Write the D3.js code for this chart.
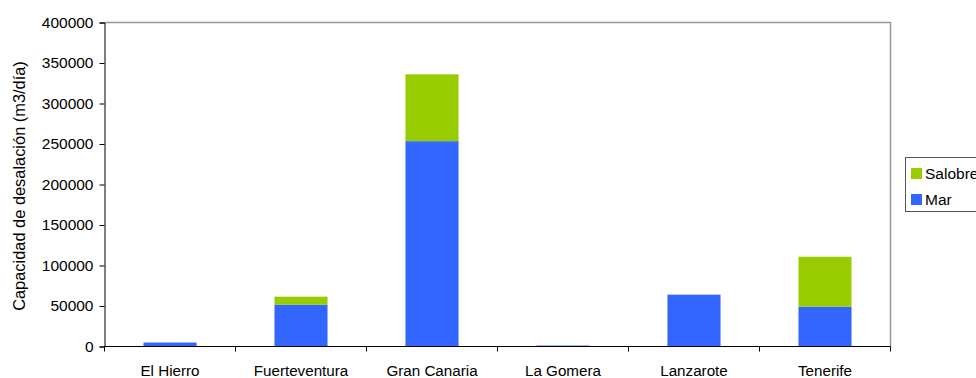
<!DOCTYPE html>
<html>
<head>
<meta charset="utf-8">
<script src="https://cdn.jsdelivr.net/npm/d3@7"></script>
<style>
  html, body { margin: 0; padding: 0; background: #fff; }
  svg { display: block; font-family: "Liberation Sans", Arial, sans-serif; }
</style>
</head>
<body>
<svg id="chart" width="976" height="378"></svg>
<script>
// Desalination capacity by island (m3/day), split by water source
const islands = ["El Hierro", "Fuerteventura", "Gran Canaria", "La Gomera", "Lanzarote", "Tenerife"];
const mar = [4900, 51700, 253500, 1200, 64000, 49200];
const salobre = [0, 9800, 82500, 0, 0, 61600];
const yTicks = [0, 50000, 100000, 150000, 200000, 250000, 300000, 350000, 400000];
const seriesNames = ["Mar", "Salobre"];
const seriesColors = ["#3366FF", "#99CC00"];

const svg = d3.select("#chart");
const plotLeft = 104.5, plotRight = 890.5, plotTop = 22.5, plotBottom = 346.5;

const x = d3.scaleBand().domain(islands).range([plotLeft, plotRight]).padding(0);
const y = d3.scaleLinear().domain([0, 400000]).range([plotBottom, plotTop]);

// Plot-area frame (top and right edges)
svg.append("path")
  .attr("d", `M${plotLeft},${plotTop}H${plotRight}V${plotBottom}`)
  .attr("fill", "none").attr("stroke", "#999").attr("stroke-width", 1.5);

// Stacked bars
const rows = islands.map((k, i) => ({ island: k, Mar: mar[i], Salobre: salobre[i] }));
const stacked = d3.stack().keys(seriesNames)(rows);
const barW = x.bandwidth() * 0.405;
svg.append("g").selectAll("g").data(stacked).join("g")
  .attr("fill", (d, i) => seriesColors[i])
  .selectAll("rect").data(d => d).join("rect")
  .attr("x", d => x(d.data.island) + (x.bandwidth() - barW) / 2)
  .attr("width", barW)
  .attr("y", d => y(d[1]))
  .attr("height", d => Math.max(0, y(d[0]) - y(d[1])));

// Y axis
const yAxis = svg.append("g").attr("transform", `translate(${plotLeft},0)`)
  .call(d3.axisLeft(y).tickValues(yTicks).tickFormat(d3.format("d")).tickSize(5).tickPadding(6));
yAxis.select(".domain").attr("stroke", "#000");
yAxis.selectAll(".tick line").attr("stroke", "#000");
yAxis.selectAll("text").attr("font-size", 15.5).attr("font-family", "Liberation Sans, Arial, sans-serif").attr("fill", "#000");

// X axis with ticks at category boundaries
const xAxis = svg.append("g").attr("transform", `translate(0,${plotBottom})`);
xAxis.append("line").attr("x1", plotLeft).attr("x2", plotRight).attr("stroke", "#000");
const bounds = islands.map(k => x(k)).concat([plotRight]);
xAxis.selectAll("line.b").data(bounds).join("line").attr("class", "b")
  .attr("x1", d => d).attr("x2", d => d).attr("y1", 0).attr("y2", 5).attr("stroke", "#000");
xAxis.selectAll("text").data(islands).join("text")
  .attr("x", d => x(d) + x.bandwidth() / 2)
  .attr("y", 29.5)
  .attr("text-anchor", "middle")
  .attr("font-size", 15.2)
  .attr("fill", "#000")
  .text(d => d);

// Y axis title
svg.append("text")
  .attr("transform", "translate(25,186) rotate(-90)")
  .attr("text-anchor", "middle")
  .attr("font-size", 16.4)
  .attr("fill", "#000")
  .text("Capacidad de desalación (m3/día)");

// Legend
const legend = svg.append("g");
legend.append("rect").attr("x", 905.5).attr("y", 157.5).attr("width", 90).attr("height", 54)
  .attr("fill", "#fff").attr("stroke", "#555");
const legendItems = [{ name: "Salobre", color: seriesColors[1] }, { name: "Mar", color: seriesColors[0] }];
legendItems.forEach((d, i) => {
  legend.append("rect").attr("x", 911).attr("y", 168 + i * 26).attr("width", 11).attr("height", 11).attr("fill", d.color);
  legend.append("text").attr("x", 925).attr("y", 179 + i * 26).attr("font-size", 15.5).attr("fill", "#000").text(d.name);
});
</script>
</body>
</html>
